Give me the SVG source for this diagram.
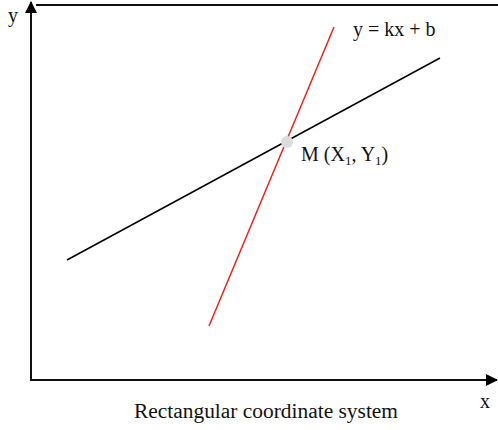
<svg xmlns="http://www.w3.org/2000/svg" width="498" height="430" viewBox="0 0 498 430">
<style>
text{font-family:"Liberation Serif","Times New Roman",serif;font-size:20px;fill:#111}
.ax{stroke:#111;stroke-width:2;fill:none}
</style>
<defs>
<marker id="ah" markerWidth="12" markerHeight="12" refX="11" refY="6" orient="auto" markerUnits="userSpaceOnUse">
<path d="M0,0 L12,6 L0,12 Z" fill="#000"/>
</marker>
</defs>
<rect width="498" height="430" fill="#fff"/>
<g id="axes">
<line class="ax" x1="31" y1="381" x2="31" y2="2" marker-end="url(#ah)"/>
<line class="ax" x1="30" y1="380" x2="497" y2="380" marker-end="url(#ah)"/>
<line class="ax" x1="36" y1="5" x2="498" y2="5"/>
</g>
<g id="connectors">
<line x1="67" y1="260" x2="440" y2="58" stroke="#000" stroke-width="1.5"/>
<line x1="209" y1="326" x2="334" y2="27" stroke="#e8251c" stroke-width="1.5"/>
</g>
<g id="point-M">
<circle cx="287" cy="142" r="6" fill="#dcdcdc"/>
<text x="301" y="161">M (X<tspan font-size="13" dy="4">1</tspan><tspan dy="-4">, Y</tspan><tspan font-size="13" dy="4">1</tspan><tspan dy="-4">)</tspan></text>
</g>
<g id="labels">
<text x="8" y="22">y</text>
<text x="353" y="36">y = kx + b</text>
<text x="480" y="408">x</text>
<text x="134" y="418" font-size="21" textLength="264" lengthAdjust="spacingAndGlyphs">Rectangular coordinate system</text>
</g>
</svg>
